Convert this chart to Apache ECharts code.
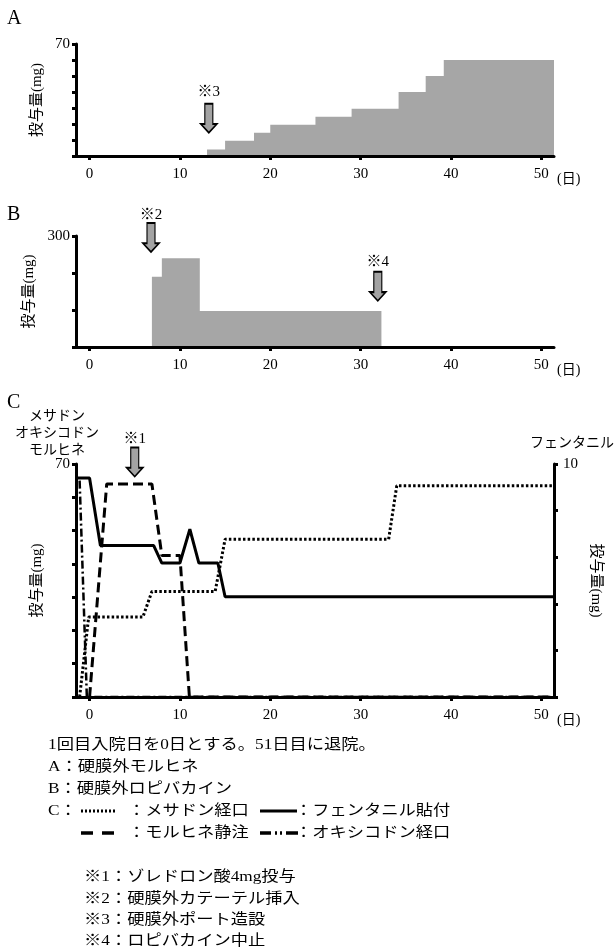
<!DOCTYPE html>
<html>
<head>
<meta charset="utf-8">
<script src="https://cdn.jsdelivr.net/npm/echarts@6/dist/echarts.min.js"></script>
<style>
  html, body { margin: 0; padding: 0; background: #fff; }
  #chart { width: 614px; height: 951px; }
</style>
</head>
<body>
<div id="chart"></div>
<script>
// 日数軸の目盛
const dayTicks = [0, 10, 20, 30, 40, 50];

// A: 硬膜外モルヒネ (mg)
const epiMorphineDays = [13, 15, 18.2, 20, 25, 29, 34.2, 37.2, 39.2, 51.4];
const epiMorphineDose = [4, 9.5, 14.5, 19.5, 24.5, 29.5, 40, 50, 60, 60];

// B: 硬膜外ロピバカイン (mg)
const ropiDays = [6.9, 8, 12.2, 32.3];
const ropiDose = [190, 240, 97, 97];

// C: オピオイド (左軸 mg / フェンタニルは右軸 mg)
const methadoneDays = [-1.1, -0.1, 5.9, 6.9, 13.9, 15, 33.1, 34, 51.3];
const methadoneDose = [0, 24, 24, 31.7, 31.7, 47.4, 47.4, 63.5, 63.5];
const morphineDays = [0, 1.9, 6.9, 8, 10, 11.05, 51.3];
const morphineDose = [0, 64, 64, 42.5, 42.5, 0, 0];
const oxycodoneDays = [-1.1, -0.3, 51.3];
const oxycodoneDose = [65, 0, 0];
const fentanylDays = [-1.4, 0, 1.2, 7.1, 8, 10, 11.1, 12.1, 14.2, 15, 51.3];
const fentanylDose = [9.4, 9.4, 6.5, 6.5, 5.75, 5.75, 7.2, 5.75, 5.75, 4.3, 4.3];

// ※印の位置 (日, 値)
const noteLabels = ["※1", "※2", "※3", "※4"];
const noteDays = [5.0, 6.8, 13.2, 31.9];
const noteValues = [70, 296, 23.6, 164];

// 下部の注記
const footLines = [
  "1回目入院日を0日とする。51日目に退院。",
  "A：硬膜外モルヒネ",
  "B：硬膜外ロピバカイン",
];
const legendNames = ["：メサドン経口", "：フェンタニル貼付", "：モルヒネ静注", "：オキシコドン経口"];
const noteTexts = ["※1：ゾレドロン酸4mg投与", "※2：硬膜外カテーテル挿入", "※3：硬膜外ポート造設", "※4：ロピバカイン中止"];

const SERIF = "'Liberation Serif', 'Noto Sans CJK JP', serif";
const ARROW = "path://M4,0L12,0L12,21L16,21L8,30L0,21L4,21Z";

const pairs = (xs, ys) => xs.map((x, i) => [x, ys[i]]);

function dayAxis(gridIndex) {
  return {
    type: "value", gridIndex, min: -1.5, max: 51.4, z: 5,
    axisLine: { onZero: false, lineStyle: { color: "#000", width: 3 } },
    axisTick: { customValues: dayTicks, length: 4, lineStyle: { color: "#000", width: 3 } },
    axisLabel: { customValues: dayTicks, margin: 11, color: "#000", fontSize: 15, fontFamily: SERIF },
    splitLine: { show: false },
    name: "(日)", nameLocation: "end", nameGap: 3,
    nameTextStyle: { color: "#000", fontSize: 14, fontFamily: SERIF, verticalAlign: "top", padding: [16, 0, 0, 0] },
  };
}

function doseAxis(gridIndex, max, interval, position) {
  const right = position === "right";
  return {
    type: "value", gridIndex, position, min: 0, max, interval, z: 5,
    axisLine: { show: true, onZero: false, lineStyle: { color: "#000", width: 3 } },
    axisTick: { show: true, length: 4, lineStyle: { color: "#000", width: 3 } },
    axisLabel: { customValues: [max], margin: right ? 9 : 6, color: "#000", fontSize: 15, fontFamily: SERIF, padding: [7, 0, 0, 0] },
    splitLine: { show: false },
    name: "投与量(mg)", nameLocation: "middle", nameGap: 23, nameRotate: right ? -90 : 90,
    nameTextStyle: { color: "#000", fontSize: 15, fontFamily: SERIF },
  };
}

// 矢印 (※) は markPoint で描く
function noteMarks(list) {
  return {
    silent: true,
    symbol: ARROW,
    symbolSize: [16, 29],
    itemStyle: { color: "#a3a3a3", borderColor: "#000", borderWidth: 1.5 },
    data: list.map(([i, dist, offsetY]) => ({
      coord: [noteDays[i], noteValues[i]],
      symbolOffset: [0, offsetY],
      label: {
        show: true, position: "top", distance: dist, formatter: noteLabels[i],
        color: "#000", fontSize: 15, fontFamily: SERIF,
      },
    })),
  };
}

function lineSeries(xi, yi, xs, ys, type, width) {
  return {
    type: "line", xAxisIndex: xi, yAxisIndex: yi, symbol: "none", silent: true,
    data: pairs(xs, ys),
    lineStyle: { color: "#000", width, type },
  };
}

const text = (x, y, s, size, extra) => ({
  type: "text", x, y, silent: true, ...(extra || {}),
  style: { text: s, fontSize: size, fontFamily: SERIF, fill: "#000", verticalAlign: "middle", ...((extra && extra.style) || {}) },
});

const rowY = [745, 767, 789, 811, 833];
const noteY = [877, 899, 920, 941];
const FOOT = 15;
const SX = 1.15;

const graphic = [
  text(7, 19, "A", 20),
  text(7, 215, "B", 20),
  text(7, 403, "C", 20),
  text(57, 416, "メサドン", 14, { style: { align: "center" } }),
  text(57, 433, "オキシコドン", 14, { style: { align: "center" } }),
  text(57, 450, "モルヒネ", 14, { style: { align: "center" } }),
  text(572, 443, "フェンタニル", 14, { style: { align: "center" } }),
  ...footLines.map((s, i) => text(48, rowY[i], s, FOOT, { scaleX: SX })),
  text(48, rowY[3], "C：", FOOT, { scaleX: SX }),
  text(128, rowY[3], legendNames[0], FOOT, { scaleX: SX }),
  text(295, rowY[3], legendNames[1], FOOT, { scaleX: SX }),
  text(128, rowY[4], legendNames[2], FOOT, { scaleX: SX }),
  text(295, rowY[4], legendNames[3], FOOT, { scaleX: SX }),
  ...noteTexts.map((s, i) => text(84, noteY[i], s, FOOT, { scaleX: SX })),
  { type: "line", silent: true, shape: { x1: 81, y1: rowY[3], x2: 115, y2: rowY[3] }, style: { stroke: "#000", lineWidth: 3, lineDash: [2, 2] } },
  { type: "line", silent: true, shape: { x1: 260, y1: rowY[3], x2: 297, y2: rowY[3] }, style: { stroke: "#000", lineWidth: 3 } },
  { type: "line", silent: true, shape: { x1: 81, y1: rowY[4], x2: 114, y2: rowY[4] }, style: { stroke: "#000", lineWidth: 3.5, lineDash: [12, 9] } },
  { type: "line", silent: true, shape: { x1: 260, y1: rowY[4], x2: 299, y2: rowY[4] }, style: { stroke: "#000", lineWidth: 3.5, lineDash: [11, 4, 2, 3, 2, 4, 12] } },
];

const chart = echarts.init(document.getElementById("chart"), null, { renderer: "canvas" });
chart.setOption({
  animation: false,
  backgroundColor: "#fff",
  textStyle: { fontFamily: SERIF },
  grid: [
    { left: 76, width: 478, top: 44, height: 112 },
    { left: 76, width: 478, top: 236, height: 111 },
    { left: 76, width: 478, top: 464, height: 233 },
  ],
  xAxis: [dayAxis(0), dayAxis(1), dayAxis(2)],
  yAxis: [
    doseAxis(0, 70, 10, "left"),
    doseAxis(1, 300, 100, "left"),
    doseAxis(2, 70, 10, "left"),
    doseAxis(2, 10, 2, "right"),
  ],
  series: [
    {
      type: "line", xAxisIndex: 0, yAxisIndex: 0, step: "end", symbol: "none", silent: true,
      data: pairs(epiMorphineDays, epiMorphineDose),
      lineStyle: { width: 0 },
      areaStyle: { color: "#a6a6a6", opacity: 1 },
      markPoint: noteMarks([[2, 3, 0]]),
    },
    {
      type: "line", xAxisIndex: 1, yAxisIndex: 1, step: "end", symbol: "none", silent: true,
      data: pairs(ropiDays, ropiDose),
      lineStyle: { width: 0 },
      areaStyle: { color: "#a6a6a6", opacity: 1 },
      markPoint: noteMarks([[1, -1, 0], [3, 1, 0]]),
    },
    { ...lineSeries(2, 2, methadoneDays, methadoneDose, [2.5, 2.2], 3), markPoint: noteMarks([[0, 0, -2]]) },
    lineSeries(2, 2, morphineDays, morphineDose, [10, 5], 3),
    lineSeries(2, 2, oxycodoneDays, oxycodoneDose, [8, 3, 2, 3], 2.5),
    lineSeries(2, 3, fentanylDays, fentanylDose, "solid", 3),
  ],
  graphic,
});
</script>
</body>
</html>
